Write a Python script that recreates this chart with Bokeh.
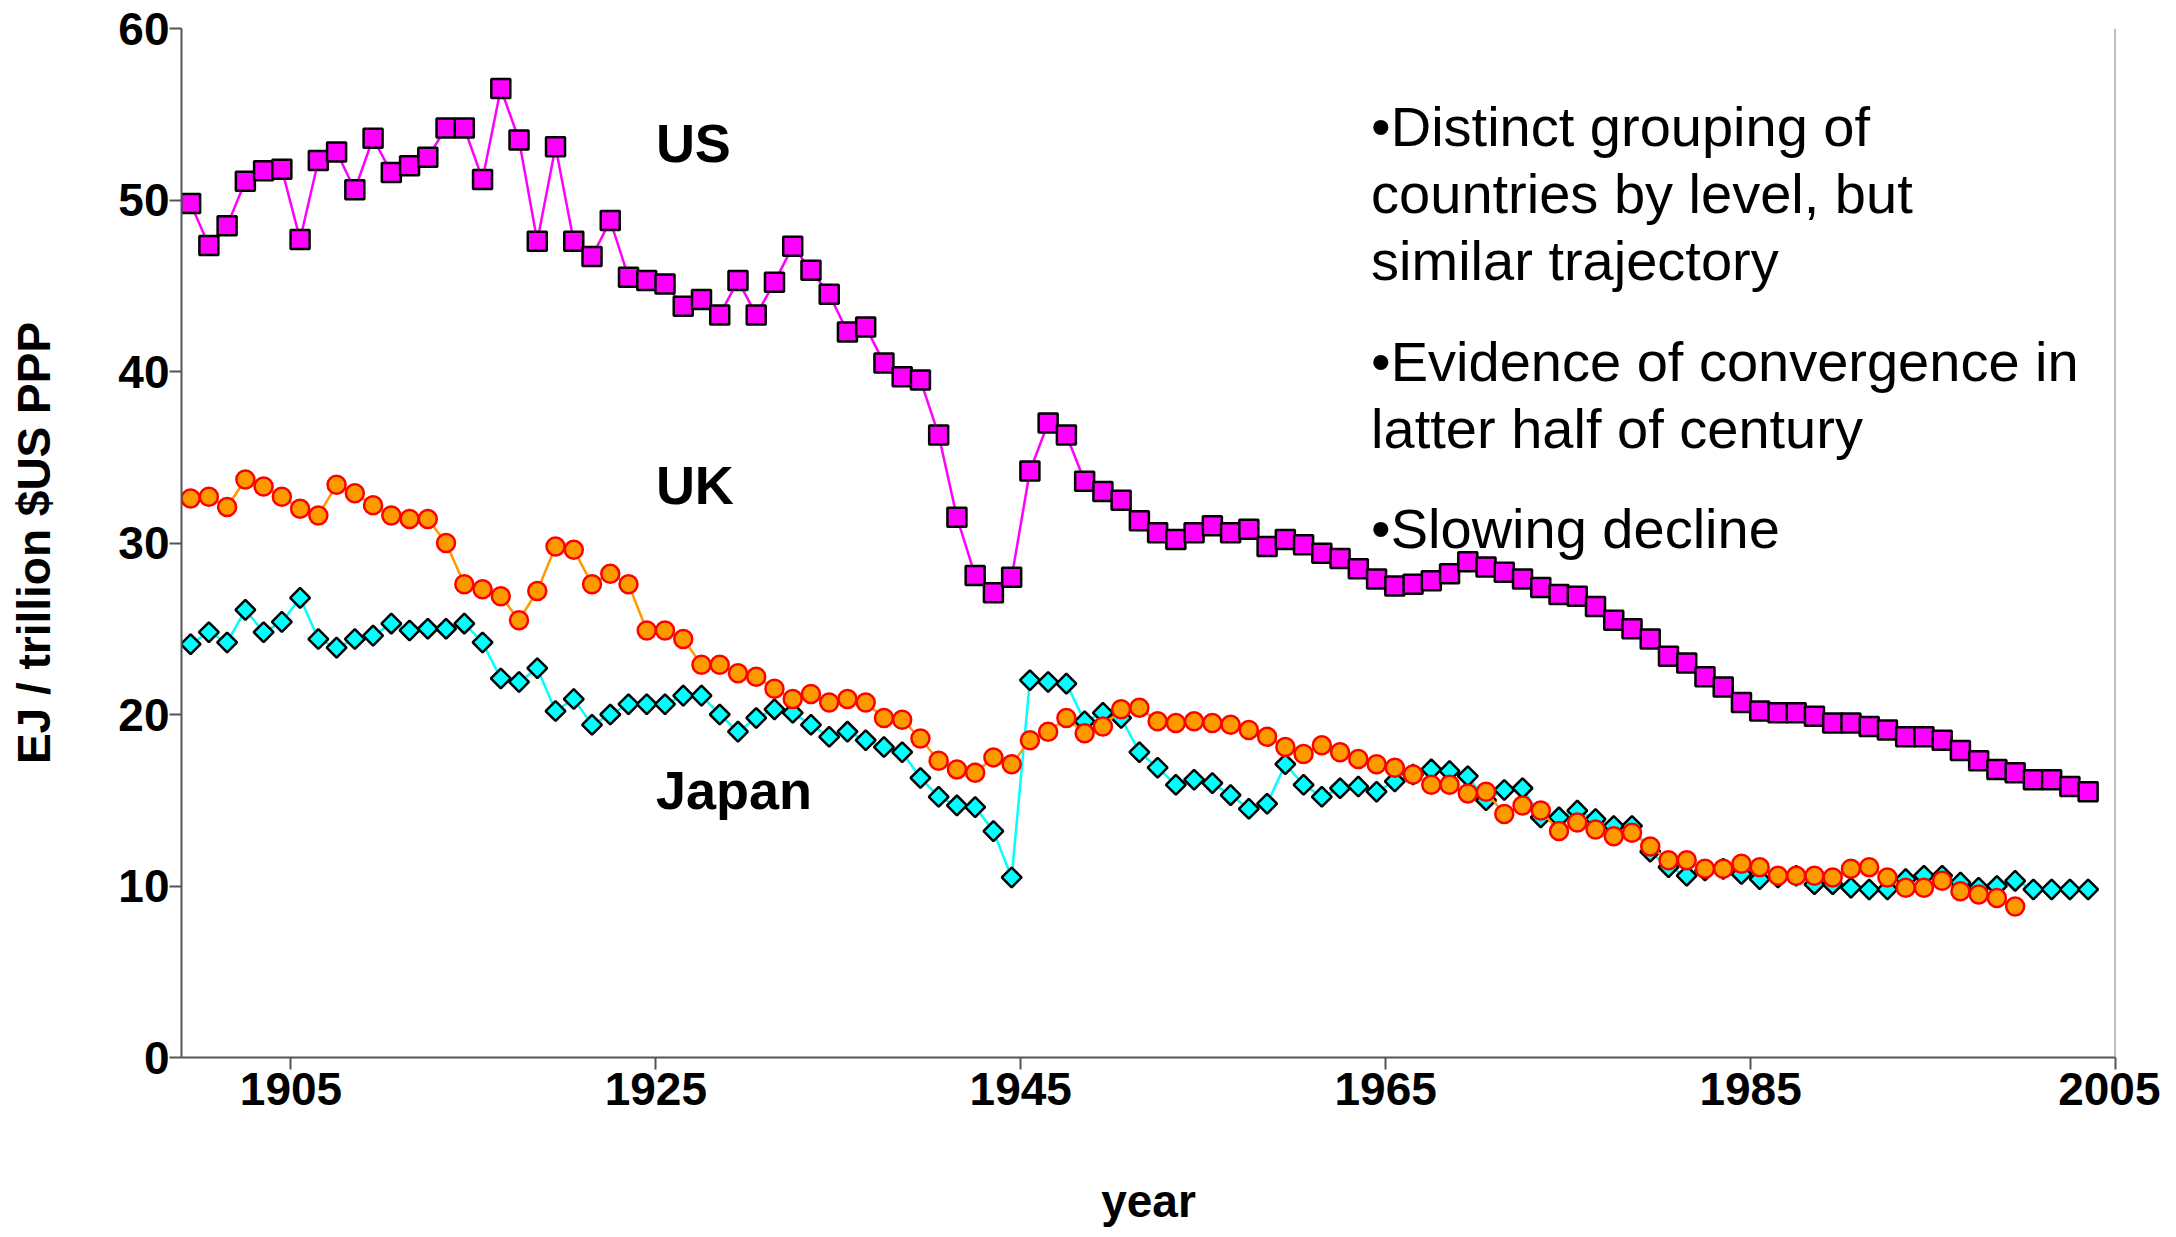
import numpy as np
from bokeh.plotting import figure
from bokeh.models import ColumnDataSource, Range1d, FixedTicker, Label, Span
from bokeh.embed import file_html
from bokeh.resources import INLINE

# ---------------- data ----------------
us_years = list(range(1900, 2005))
us_values = [
    49.8, 47.35, 48.5, 51.1, 51.7, 51.8, 47.7, 52.3, 52.8, 50.6,   # 1900-1909
    53.6, 51.6, 52.0, 52.5, 54.2, 54.2, 51.2, 56.5, 53.5, 47.6,    # 1910-1919
    53.1, 47.6, 46.7, 48.8, 45.5, 45.3, 45.1, 43.8, 44.2, 43.3,    # 1920-1929
    45.3, 43.3, 45.2, 47.3, 45.9, 44.5, 42.3, 42.6, 40.5, 39.7,    # 1930-1939
    39.5, 36.3, 31.5, 28.1, 27.1, 28.0, 34.2, 37.0, 36.3, 33.6,    # 1940-1949
    33.0, 32.5, 31.3, 30.6, 30.2, 30.6, 31.0, 30.6, 30.8, 29.8,    # 1950-1959
    30.2, 29.9, 29.4, 29.1, 28.5, 27.9, 27.5, 27.6, 27.8, 28.2,    # 1960-1969
    28.9, 28.6, 28.3, 27.9, 27.4, 27.0, 26.9, 26.3, 25.5, 25.0,    # 1970-1979
    24.4, 23.4, 23.0, 22.2, 21.6, 20.7, 20.2, 20.1, 20.1, 19.9,    # 1980-1989
    19.5, 19.5, 19.3, 19.1, 18.7, 18.7, 18.5, 17.9, 17.3, 16.8,    # 1990-1999
    16.6, 16.2, 16.2, 15.8, 15.5,                                  # 2000-2004
]

uk_years = list(range(1900, 2001))
uk_values = [
    32.6, 32.7, 32.1, 33.7, 33.3, 32.7, 32.0, 31.6, 33.4, 32.9,    # 1900-1909
    32.2, 31.6, 31.4, 31.4, 30.0, 27.6, 27.3, 26.9, 25.5, 27.2,    # 1910-1919
    29.8, 29.6, 27.6, 28.2, 27.6, 24.9, 24.9, 24.4, 22.9, 22.9,    # 1920-1929
    22.4, 22.2, 21.5, 20.9, 21.2, 20.7, 20.9, 20.7, 19.8, 19.7,    # 1930-1939
    18.6, 17.3, 16.8, 16.6, 17.5, 17.1, 18.5, 19.0, 19.8, 18.9,    # 1940-1949
    19.3, 20.3, 20.4, 19.6, 19.5, 19.6, 19.5, 19.4, 19.1, 18.7,    # 1950-1959
    18.1, 17.7, 18.2, 17.8, 17.4, 17.1, 16.9, 16.5, 15.9, 15.9,    # 1960-1969
    15.4, 15.5, 14.2, 14.7, 14.4, 13.2, 13.7, 13.3, 12.9, 13.1,    # 1970-1979
    12.3, 11.5, 11.5, 11.0, 11.0, 11.3, 11.1, 10.6, 10.6, 10.6,    # 1980-1989
    10.5, 11.0, 11.1, 10.5, 9.9, 9.9, 10.3, 9.7, 9.5, 9.3,         # 1990-1999
    8.8,                                                           # 2000
]

japan_years = list(range(1900, 2005))
japan_values = [
    24.1, 24.8, 24.2, 26.1, 24.8, 25.4, 26.8, 24.4, 23.9, 24.4,    # 1900-1909
    24.6, 25.3, 24.9, 25.0, 25.0, 25.3, 24.2, 22.1, 21.9, 22.7,    # 1910-1919
    20.2, 20.9, 19.4, 20.0, 20.6, 20.6, 20.6, 21.1, 21.1, 20.0,    # 1920-1929
    19.0, 19.8, 20.3, 20.1, 19.4, 18.7, 19.0, 18.5, 18.1, 17.8,    # 1930-1939
    16.3, 15.2, 14.7, 14.6, 13.2, 10.5, 22.0, 21.9, 21.8, 19.6,    # 1940-1949
    20.1, 19.8, 17.8, 16.9, 15.9, 16.2, 16.0, 15.3, 14.5, 14.8,    # 1950-1959
    17.1, 15.9, 15.2, 15.7, 15.8, 15.5, 16.1, 16.5, 16.8, 16.7,    # 1960-1969
    16.4, 15.0, 15.6, 15.7, 14.0, 14.0, 14.4, 13.9, 13.5, 13.5,    # 1970-1979
    12.0, 11.1, 10.6, 10.9, 11.0, 10.7, 10.4, 10.5, 10.6, 10.1,    # 1980-1989
    10.1, 9.9, 9.8, 9.8, 10.4, 10.6, 10.6, 10.2, 9.9, 10.0,        # 1990-1999
    10.3, 9.8, 9.8, 9.8, 9.8,                                      # 2000-2004
]

x_ticks = [1905, 1925, 1945, 1965, 1985, 2005]
y_ticks = [0, 10, 20, 30, 40, 50, 60]

series_names = ["US", "UK", "Japan"]
series_label_y = [53.3, 33.4, 15.6]

bullet_lines = [
    "\u2022Distinct grouping of",
    "countries by level, but",
    "similar trajectory",
    "\u2022Evidence of convergence in",
    "latter half of century",
    "\u2022Slowing decline",
]
bullet_y = [54.3, 50.4, 46.45, 40.6, 36.7, 30.85]

# Excel category-style placement: each year's point sits half a year left of its tick
def xpos(years):
    return [y - 0.5 for y in years]

FONT = "Liberation Sans"

p = figure(width=2160, height=1229, output_backend="svg", toolbar_location=None,
           x_range=Range1d(1899, 2005), y_range=Range1d(0, 60),
           min_border_left=181, min_border_right=45, min_border_top=28,
           min_border_bottom=170)

p.grid.visible = False
p.outline_line_color = None
p.background_fill_color = "white"
p.border_fill_color = "white"

# axes
p.xaxis.ticker = FixedTicker(ticks=x_ticks)
p.yaxis.ticker = FixedTicker(ticks=y_ticks)
for ax in (p.xaxis, p.yaxis):
    ax.axis_line_color = "#555555"
    ax.axis_line_width = 2
    ax.major_tick_line_color = "#555555"
    ax.major_tick_line_width = 2
    ax.major_tick_out = 12
    ax.major_tick_in = 0
    ax.minor_tick_line_color = None
    ax.major_label_text_font = FONT
    ax.major_label_text_font_style = "bold"
    ax.major_label_text_font_size = "46px"
    ax.major_label_text_color = "black"
    ax.axis_label_text_font = FONT
    ax.axis_label_text_font_style = "bold"
    ax.axis_label_text_font_size = "46px"
    ax.axis_label_text_color = "black"
    ax.major_label_standoff = 3

p.yaxis.major_label_standoff = 0
p.xaxis.axis_label = "year"
p.yaxis.axis_label = "EJ / trillion $US PPP"
p.xaxis.axis_label_standoff = 67
p.yaxis.axis_label_standoff = 55

p.add_layout(Span(location=2005, dimension="height", line_color="#808080", line_width=2))

# series
src_us = ColumnDataSource(dict(x=xpos(us_years), y=us_values))
src_uk = ColumnDataSource(dict(x=xpos(uk_years), y=uk_values))
src_jp = ColumnDataSource(dict(x=xpos(japan_years), y=japan_values))

p.line("x", "y", source=src_us, line_color="#FF00FF", line_width=2.5)
p.scatter("x", "y", source=src_us, marker="square", size=19,
          fill_color="#FF00FF", line_color="black", line_width=2.5)

p.line("x", "y", source=src_jp, line_color="#00FFFF", line_width=2.5)
p.scatter("x", "y", source=src_jp, marker="square", angle=np.pi / 4, size=14,
          fill_color="#00FFFF", line_color="black", line_width=2.5)

p.line("x", "y", source=src_uk, line_color="#FF9900", line_width=2.5)
p.scatter("x", "y", source=src_uk, marker="circle", size=18,
          fill_color="#FF9900", line_color="#FF0000", line_width=2.5)

# series names
for name, ly in zip(series_names, series_label_y):
    p.add_layout(Label(x=1925, y=ly, text=name, text_font=FONT, text_font_style="bold",
                       text_font_size="54px", text_baseline="middle", text_align="left",
                       text_color="black"))

# bullet text
for line, ly in zip(bullet_lines, bullet_y):
    p.add_layout(Label(x=1964.2, y=ly, text=line, text_font=FONT,
                       text_font_size="56px", text_baseline="middle", text_align="left",
                       text_color="black"))

open("out.html", "w").write(file_html(p, INLINE))
